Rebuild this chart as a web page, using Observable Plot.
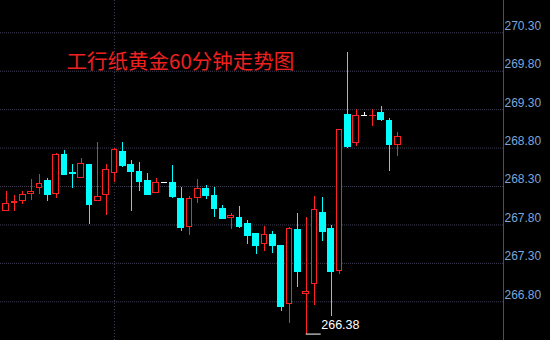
<!DOCTYPE html>
<html>
<head>
<meta charset="utf-8">
<script src="https://cdn.jsdelivr.net/npm/d3@7"></script>
<script src="https://cdn.jsdelivr.net/npm/@observablehq/plot@0.6"></script>
<style>
  html, body { margin: 0; padding: 0; background: #000; }
  #chart { width: 550px; height: 340px; position: relative; }
</style>
</head>
<body>
<div id="chart"></div>
<script>
// ---- data ----
const title = "工行纸黄金60分钟走势图";
const candleIndex = [-1,0,1,2,3,4,5,6,7,8,9,10,11,12,13,14,15,16,17,18,19,20,21,22,23,24,25,26,27,28,29,30,31,32,33,34,35,36,37,38,39,40,41,42,43,44,45,46,47];
const openP  = [268.24,267.98,268.08,268.11,268.19,268.28,268.38,268.20,268.72,268.48,268.41,268.59,268.11,268.18,268.47,268.76,268.59,268.50,268.38,268.21,268.35,268.35,268.14,267.77,268.15,268.27,268.18,268.01,267.89,267.90,267.82,267.69,267.54,267.68,267.53,266.77,267.74,266.90,267.03,267.96,267.75,267.19,269.24,268.86,269.22,269.22,269.26,269.16,268.84];
const highP  = [268.24,268.24,268.18,268.24,268.39,268.46,268.40,268.73,268.77,268.59,268.67,268.59,268.87,268.59,268.79,268.87,268.64,268.61,268.47,268.41,268.35,268.57,268.29,268.17,268.39,268.31,268.29,268.05,267.95,268.04,267.86,267.69,267.78,267.71,267.53,267.77,267.95,267.90,268.17,268.16,267.79,269.04,270.04,269.30,269.26,269.30,269.34,269.19,269.00];
const lowP   = [268.09,267.98,267.98,268.06,268.12,268.20,268.11,268.15,268.46,268.28,268.40,267.80,268.11,267.92,268.35,268.55,267.97,268.23,268.18,268.21,268.35,268.15,267.71,267.66,268.08,268.13,267.90,267.88,267.74,267.76,267.55,267.42,267.46,267.43,266.67,266.52,266.98,266.38,266.75,267.59,266.61,267.15,268.80,268.82,269.22,269.08,269.15,268.49,268.69];
const closeP = [268.09,268.08,268.10,268.20,268.24,268.34,268.20,268.72,268.46,268.47,268.60,268.06,268.17,268.52,268.78,268.57,268.49,268.37,268.20,268.35,268.35,268.17,267.77,268.14,268.27,268.18,268.01,267.88,267.92,267.78,267.66,267.53,267.68,267.53,266.74,267.76,267.20,266.93,268.00,267.72,267.19,269.04,268.82,269.22,269.22,269.23,269.17,268.85,268.95];
const tickValues = [266.80,267.30,267.80,268.30,268.80,269.30,269.80,270.30];
const sessionBreak = [13];

// ---- build table ----
const candles = candleIndex.map((i, k) => ({
  i, open: openP[k], high: highP[k], low: lowP[k], close: closeP[k]
}));
const UP = "#ff2020", DOWN = "#00ffff", FLAT = "#ffffff";
const col = d => d.close > d.open ? UP : d.close < d.open ? DOWN : FLAT;
const hw = 0.4;
const upC = candles.filter(d => d.close > d.open);
const downC = candles.filter(d => d.close < d.open);
const minC = candles.reduce((a, b) => (b.low < a.low ? b : a));

const pxPerIdx = 8.34;
const xDomain = [-5.5 / pxPerIdx, (503 - 5.5) / pxPerIdx];
const pxPerUnit = 76.857;
const yDomain = [270.30 - (340 - 32.3) / pxPerUnit, 270.30 + 32.3 / pxPerUnit];

const chart = Plot.plot({
  width: 550,
  height: 340,
  marginLeft: 0,
  marginRight: 47,
  marginTop: 0,
  marginBottom: 0,
  style: { background: "#000", fontFamily: "Liberation Sans, Arial, sans-serif" },
  x: { type: "linear", domain: xDomain, axis: null },
  y: { type: "linear", domain: yDomain, axis: null },
  marks: [
    Plot.gridY(tickValues, { stroke: "#3e3e54", strokeOpacity: 1, strokeDasharray: "1,1" }),
    Plot.ruleX(sessionBreak, { stroke: "#3e3e54", strokeDasharray: "1,2" }),
    // wicks
    Plot.ruleX(candles, { x: "i", y1: "low", y2: "high", stroke: col, clip: true, shapeRendering: "crispEdges" }),
    // down bodies (filled)
    Plot.rectY(downC, { x1: d => d.i - hw, x2: d => d.i + hw, y1: "open", y2: "close", fill: DOWN, clip: true, shapeRendering: "crispEdges" }),
    // up bodies (hollow)
    Plot.rectY(upC, { x1: d => d.i - hw, x2: d => d.i + hw, y1: "open", y2: "close", fill: "#000", stroke: UP, strokeWidth: 1, inset: 0.5, clip: true, shapeRendering: "crispEdges" }),
    // open / close ticks so that dojis remain visible
    Plot.ruleY(candles, { y: "close", x1: d => d.i - hw, x2: d => d.i + hw, stroke: col, clip: true, shapeRendering: "crispEdges" }),
    // right axis line
    Plot.ruleX([xDomain[1]], { stroke: "#505050" }),
    Plot.axisY(tickValues, {
      anchor: "right", tickSize: 0, tickPadding: 1, dy: -7,
      tickFormat: d => d.toFixed(2), fill: "#7aa6dc", fontSize: 12,
      fontFamily: "Liberation Sans, Arial, sans-serif"
    }),
    // lowest price annotation
    Plot.ruleY([minC], { y: "low", x1: "i", x2: d => d.i + 15 / pxPerIdx, stroke: "#ffffff" }),
    Plot.text([minC], { x: "i", y: "low", text: d => d.low.toFixed(2), dx: 15, dy: -9, textAnchor: "start", fill: "#ffffff", fontSize: 12.5, fontFamily: "Liberation Sans, Arial, sans-serif" }),
    // title
    Plot.text([title], { frameAnchor: "top-left", dx: 66, dy: 54, textAnchor: "start", fill: "#f02020", fontSize: 20.5, fontFamily: "Noto Sans CJK SC, sans-serif" })
  ]
});
document.getElementById("chart").appendChild(chart);
</script>
</body>
</html>
